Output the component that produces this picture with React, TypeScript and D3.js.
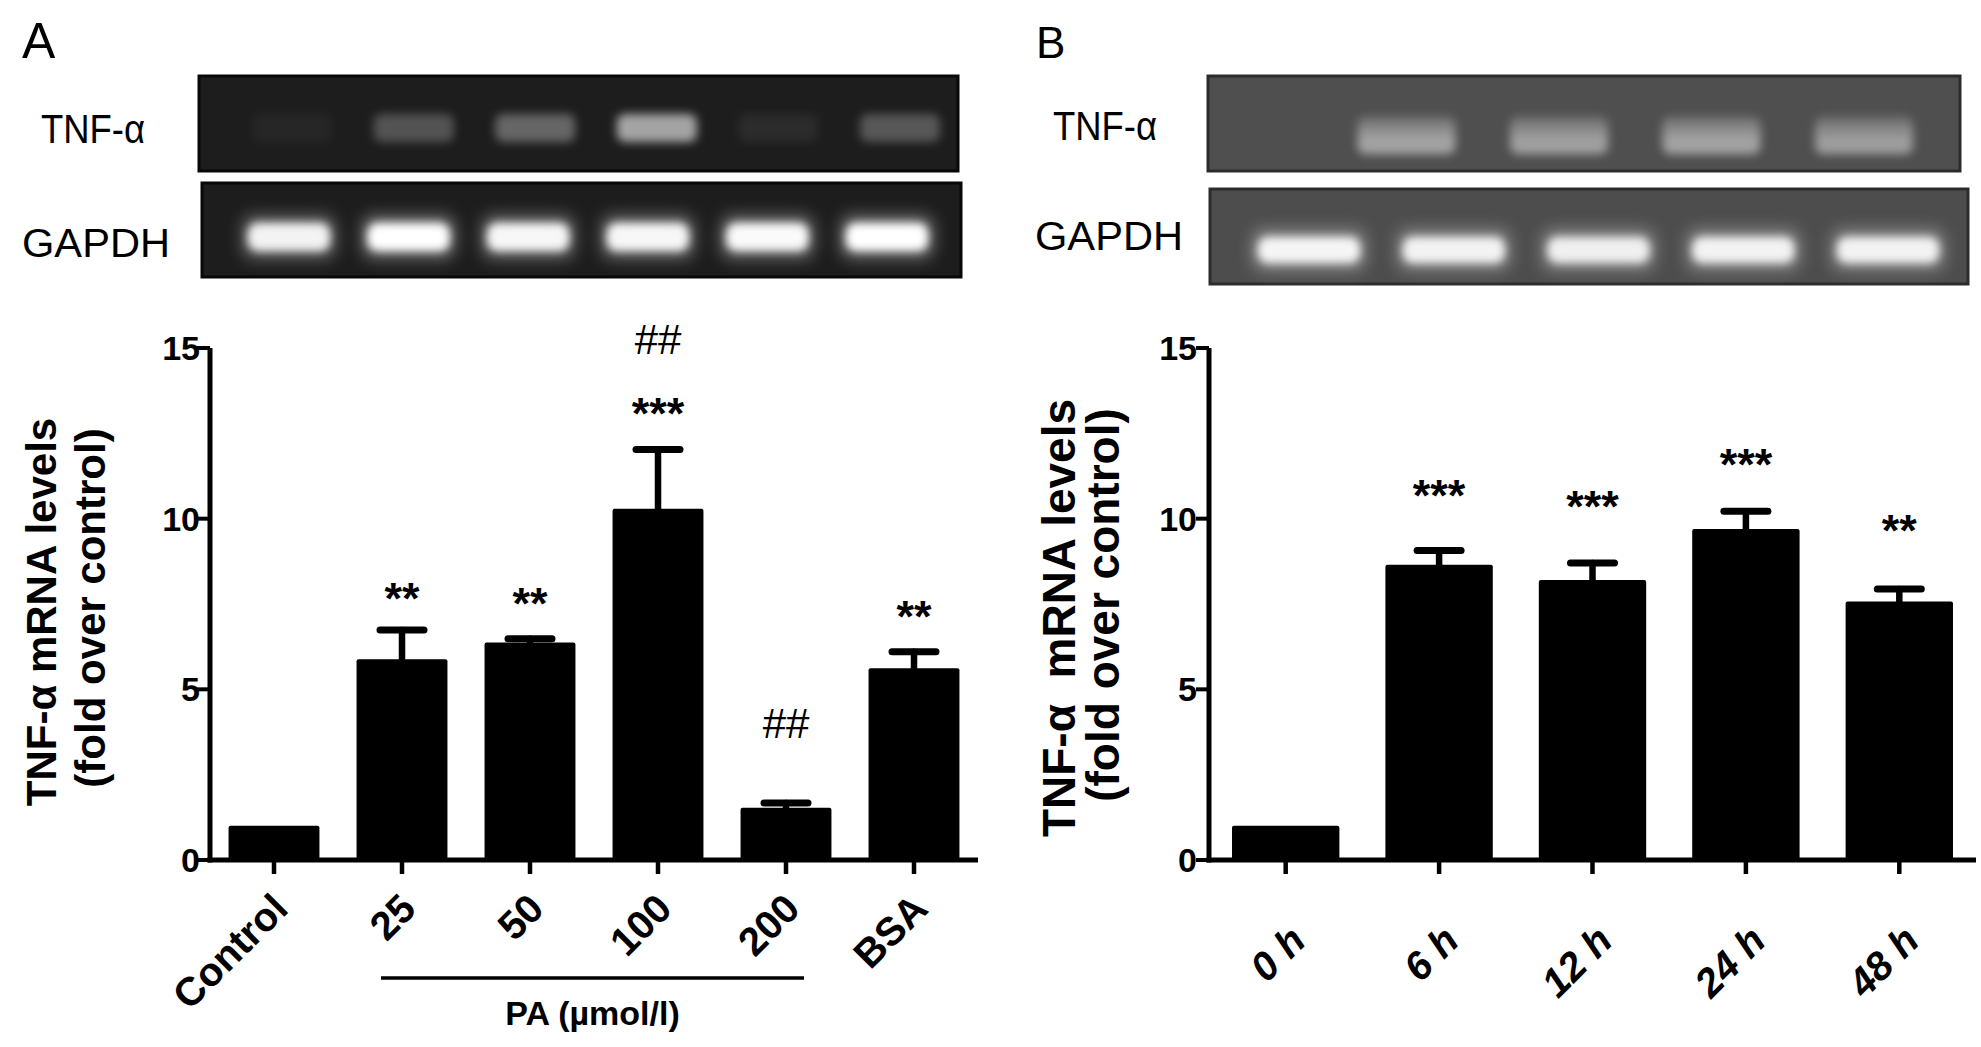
import React from 'react';
import * as d3 from 'd3';

// ---------- data ----------
const catsA = ['Control', '25', '50', '100', '200', 'BSA'];
const meanA = [1.0, 5.88, 6.37, 10.29, 1.53, 5.62];
const semA = [0, 0.86, 0.11, 1.74, 0.14, 0.48];
const annCatsA = ['25', '50', '100', '100', '200', 'BSA'];
const annTextA = ['**', '**', '***', '##', '##', '**'];
const annValA = [7.95, 7.8, 13.35, 15.25, 4.0, 7.4];

const catsB = ['0 h', '6 h', '12 h', '24 h', '48 h'];
const meanB = [1.0, 8.65, 8.2, 9.7, 7.57];
const semB = [0, 0.42, 0.5, 0.52, 0.37];
const annCatsB = ['6 h', '12 h', '24 h', '48 h'];
const annTextB = ['***', '***', '***', '**'];
const annValB = [10.97, 10.63, 11.86, 9.92];

const yTicks = [0, 5, 10, 15];
const paGroup = ['25', '50', '100', '200'];

// gel band intensities (0..1)
const lanesA = ['1', '2', '3', '4', '5', '6'];
const tnfA = [0.05, 0.3, 0.4, 0.75, 0.08, 0.32];
const gapdhA = [0.92, 1.0, 0.95, 0.95, 0.97, 1.0];
const lanesB = ['1', '2', '3', '4', '5'];
const tnfB = [0.0, 0.6, 0.58, 0.6, 0.56];
const gapdhB = [0.92, 0.9, 0.88, 0.9, 0.9];

const FONT = '"Liberation Sans", Arial, Helvetica, sans-serif';

// ---------- chart panel ----------
type PanelProps = {
  cats: string[];
  means: number[];
  sems: number[];
  annCats: string[];
  annText: string[];
  annVal: number[];
  x0: number;
  x1: number;
  padIn: number;
  title1: string;
  title2: string;
  t1x: number;
  t2x: number;
  t1y: number;
  t2y: number;
  tSize: number;
  lblDx: number;
  lblDy: number;
  lblItalic: boolean;
  tickLblGap: number;
};

function BarPanel(p: PanelProps) {
  const y = d3.scaleLinear().domain([0, 15]).range([860, 348]);
  const x = d3
    .scaleBand<string>()
    .domain(p.cats)
    .range([p.x0, p.x1])
    .paddingInner(p.padIn)
    .paddingOuter(p.padIn / 2);
  const bw = x.bandwidth();
  const y0 = y(0);
  return (
    <g fontFamily={FONT}>
      {/* bars */}
      {p.cats.map((c, i) => (
        <rect
          key={'b' + c}
          x={x(c)!}
          y={y(p.means[i])}
          width={bw}
          height={y0 - y(p.means[i])}
          fill="#000"
          rx={2}
        />
      ))}
      {/* error bars */}
      {p.cats.map((c, i) => {
        if (!p.sems[i]) return null;
        const cx = x(c)! + bw / 2;
        const top = y(p.means[i] + p.sems[i]);
        return (
          <g key={'e' + c} stroke="#000" strokeLinecap="round">
            <line x1={cx} x2={cx} y1={y(p.means[i])} y2={top} strokeWidth={6.5} />
            <line x1={cx - 22} x2={cx + 22} y1={top} y2={top} strokeWidth={7} />
          </g>
        );
      })}
      {/* axes */}
      <line x1={p.x0} x2={p.x0} y1={y0 + 2.5} y2={y(15)} stroke="#000" strokeWidth={5} />
      <line x1={p.x0 - 2.5} x2={p.x1} y1={y0} y2={y0} stroke="#000" strokeWidth={5} />
      {yTicks.map((t) => (
        <g key={'yt' + t}>
          <line x1={p.x0 - 13} x2={p.x0} y1={y(t)} y2={y(t)} stroke="#000" strokeWidth={4} />
          <text
            x={p.x0 - p.tickLblGap}
            y={y(t)}
            textAnchor="end"
            dominantBaseline="central"
            fontSize={34}
            fontWeight="bold"
          >
            {t}
          </text>
        </g>
      ))}
      {p.cats.map((c) => {
        const cx = x(c)! + bw / 2;
        return (
          <g key={'xt' + c}>
            <line x1={cx} x2={cx} y1={y0} y2={y0 + 14} stroke="#000" strokeWidth={4.5} />
            <text
              transform={`translate(${cx + p.lblDx},${y0 + p.lblDy}) rotate(-45)`}
              textAnchor="end"
              fontSize={40}
              fontWeight="bold"
              fontStyle={p.lblItalic ? 'italic' : 'normal'}
            >
              {c}
            </text>
          </g>
        );
      })}
      {/* annotations */}
      {p.annCats.map((c, i) => {
        const cx = x(c)! + bw / 2;
        const hash = p.annText[i].startsWith('#');
        return (
          <text
            key={'a' + i}
            x={cx}
            y={y(p.annVal[i]) + (hash ? 15 : 25)}
            textAnchor="middle"
            fontSize={hash ? 42 : 45}
            fontWeight={hash ? 'normal' : 'bold'}
          >
            {p.annText[i]}
          </text>
        );
      })}
      {/* y title */}
      <text
        transform={`translate(${p.t1x},${p.t1y}) rotate(-90)`}
        textAnchor="middle"
        fontSize={p.tSize}
        fontWeight="bold"
        style={{ whiteSpace: 'pre' }}
      >
        {p.title1}
      </text>
      <text
        transform={`translate(${p.t2x},${p.t2y}) rotate(-90)`}
        textAnchor="middle"
        fontSize={p.tSize}
        fontWeight="bold"
      >
        {p.title2}
      </text>
    </g>
  );
}

// ---------- gel ----------
type GelProps = {
  x0: number;
  x1: number;
  y0: number;
  y1: number;
  bg: string;
  border: string;
  lanes: string[];
  laneRange: [number, number];
  vals: number[];
  bandW: number;
  bandCy: number;
  bandH: number;
  kind: 'tnfA' | 'gapdh' | 'tnfB';
};

function Gel(g: GelProps) {
  const lx = d3.scalePoint<string>().domain(g.lanes).range(g.laneRange);
  return (
    <g>
      <rect
        x={g.x0}
        y={g.y0}
        width={g.x1 - g.x0}
        height={g.y1 - g.y0}
        fill={g.bg}
        stroke={g.border}
        strokeWidth={3}
      />
      {g.lanes.map((l, i) => {
        const cx = lx(l)!;
        const v = g.vals[i];
        if (v <= 0) return null;
        if (g.kind === 'gapdh') {
          return (
            <g key={l}>
              <rect
                x={cx - g.bandW / 2 - 6}
                y={g.bandCy - g.bandH / 2 - 8}
                width={g.bandW + 12}
                height={g.bandH + 16}
                rx={12}
                fill="#fff"
                opacity={0.35 * v}
                filter="url(#blurBig)"
              />
              <rect
                x={cx - g.bandW / 2}
                y={g.bandCy - g.bandH / 2}
                width={g.bandW}
                height={g.bandH}
                rx={10}
                fill="#fff"
                opacity={v}
                filter="url(#blurSmall)"
              />
            </g>
          );
        }
        if (g.kind === 'tnfB') {
          return (
            <rect
              key={l}
              x={cx - g.bandW / 2}
              y={g.bandCy - g.bandH / 2}
              width={g.bandW}
              height={g.bandH}
              rx={8}
              fill="url(#tnfBgrad)"
              opacity={v}
              filter="url(#blurMid)"
            />
          );
        }
        return (
          <rect
            key={l}
            x={cx - g.bandW / 2}
            y={g.bandCy - g.bandH / 2}
            width={g.bandW}
            height={g.bandH}
            rx={8}
            fill="#fff"
            opacity={v * 0.8}
            filter="url(#blurMid)"
          />
        );
      })}
    </g>
  );
}

export default function App() {
  return (
    <svg
      width={1981}
      height={1047}
      viewBox="0 0 1981 1047"
      style={{ position: 'absolute', left: 0, top: 0, display: 'block', background: '#fff' }}
    >
      <defs>
        <filter id="blurBig" x="-50%" y="-100%" width="200%" height="300%">
          <feGaussianBlur stdDeviation={8} />
        </filter>
        <filter id="blurMid" x="-50%" y="-100%" width="200%" height="300%">
          <feGaussianBlur stdDeviation={5} />
        </filter>
        <filter id="blurSmall" x="-50%" y="-100%" width="200%" height="300%">
          <feGaussianBlur stdDeviation={4} />
        </filter>
        <linearGradient id="tnfBgrad" x1="0" y1="0" x2="0" y2="1">
          <stop offset="0" stopColor="#fff" stopOpacity={0.25} />
          <stop offset="0.55" stopColor="#fff" stopOpacity={0.75} />
          <stop offset="1" stopColor="#fff" stopOpacity={0.85} />
        </linearGradient>
      </defs>

      {/* panel letters */}
      <text x={22} y={58} fontFamily={FONT} fontSize={50}>A</text>
      <text x={1036} y={58} fontFamily={FONT} fontSize={44}>B</text>

      {/* gel labels */}
      <text x={41} y={143} fontFamily={FONT} fontSize={40} textLength={104} lengthAdjust="spacingAndGlyphs">TNF-α</text>
      <text x={22} y={257} fontFamily={FONT} fontSize={41} textLength={148} lengthAdjust="spacingAndGlyphs">GAPDH</text>
      <text x={1053} y={140} fontFamily={FONT} fontSize={40} textLength={104} lengthAdjust="spacingAndGlyphs">TNF-α</text>
      <text x={1035} y={250} fontFamily={FONT} fontSize={41} textLength={148} lengthAdjust="spacingAndGlyphs">GAPDH</text>

      {/* gels A */}
      <Gel x0={199} x1={958} y0={76} y1={171} bg="#1d1d1d" border="#080808" lanes={lanesA}
        laneRange={[292, 900]} vals={tnfA} bandW={80} bandCy={128} bandH={28} kind="tnfA" />
      <Gel x0={202} x1={961} y0={183} y1={277} bg="#1d1d1d" border="#080808" lanes={lanesA}
        laneRange={[289, 887]} vals={gapdhA} bandW={82} bandCy={237} bandH={28} kind="gapdh" />
      {/* gels B */}
      <Gel x0={1208} x1={1960} y0={76} y1={171} bg="#4f4f4f" border="#2c2c2c" lanes={lanesB}
        laneRange={[1254, 1864]} vals={tnfB} bandW={98} bandCy={135} bandH={38} kind="tnfB" />
      <Gel x0={1210} x1={1968} y0={189} y1={284} bg="#4d4d4d" border="#2c2c2c" lanes={lanesB}
        laneRange={[1309, 1888]} vals={gapdhB} bandW={102} bandCy={250} bandH={26} kind="gapdh" />

      <BarPanel
        cats={catsA} means={meanA} sems={semA}
        annCats={annCatsA} annText={annTextA} annVal={annValA}
        x0={210} x1={978} padIn={0.29}
        title1="TNF-α mRNA levels" title2="(fold over control)"
        t1x={56} t2x={105} t1y={612} t2y={608} tSize={42}
        lblDx={16} lblDy={51} lblItalic={false} tickLblGap={10}
      />
      <BarPanel
        cats={catsB} means={meanB} sems={semB}
        annCats={annCatsB} annText={annTextB} annVal={annValB}
        x0={1209} x1={1976} padIn={0.3}
        title1="TNF-α  mRNA levels" title2="(fold over control)"
        t1x={1075} t2x={1119} t1y={618} t2y={605} tSize={46}
        lblDx={22} lblDy={83} lblItalic={true} tickLblGap={12}
      />

      {/* PA bracket */}
      {(() => {
        const x = d3.scaleBand<string>().domain(catsA).range([210, 978]).paddingInner(0.29).paddingOuter(0.145);
        const bw = x.bandwidth();
        const left = x(paGroup[0])! + bw / 2 - 21;
        const right = x(paGroup[paGroup.length - 1])! + bw / 2 + 18;
        return (
          <g fontFamily={FONT}>
            <line x1={left} x2={right} y1={978} y2={978} stroke="#000" strokeWidth={3.5} />
            <text x={(left + right) / 2} y={1025} textAnchor="middle" fontSize={34} fontWeight="bold">
              PA (µmol/l)
            </text>
          </g>
        );
      })()}
    </svg>
  );
}
